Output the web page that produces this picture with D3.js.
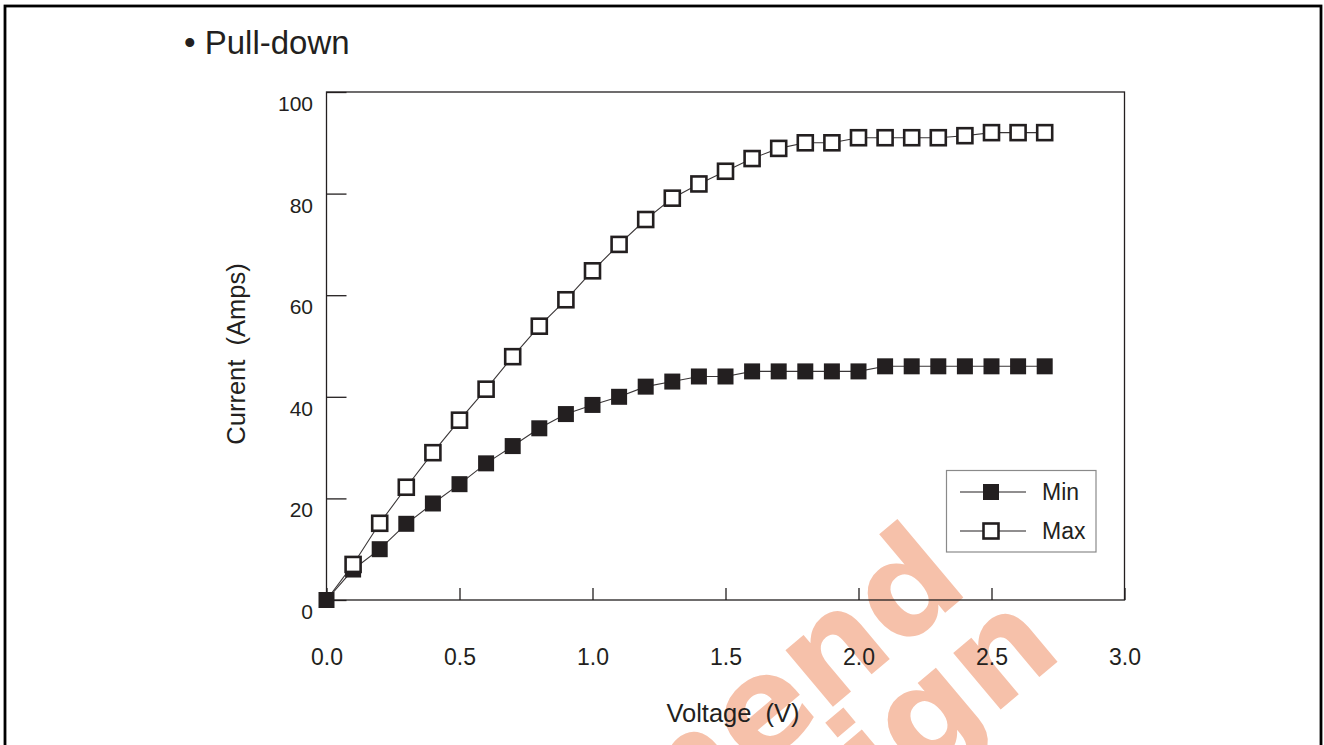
<!DOCTYPE html>
<html>
<head>
<meta charset="utf-8">
<script src="https://cdn.jsdelivr.net/npm/d3@7"></script>
<style>
  html, body { margin: 0; padding: 0; background: #fff; }
  svg { display: block; }
  text { font-family: "Liberation Sans", Arial, Helvetica, sans-serif; fill: #231f20; }
</style>
</head>
<body>
<svg id="chart" width="1324" height="745"></svg>
<script>
// ---- data ----
const voltage = [0.0, 0.1, 0.2, 0.3, 0.4, 0.5, 0.6, 0.7, 0.8, 0.9, 1.0, 1.1, 1.2, 1.3,
                 1.4, 1.5, 1.6, 1.7, 1.8, 1.9, 2.0, 2.1, 2.2, 2.3, 2.4, 2.5, 2.6, 2.7];
const minCurrent = [0, 6, 10, 15, 19, 22.8, 26.9, 30.3, 33.8, 36.6, 38.4, 40, 42, 43,
                    44, 44, 45, 45, 45, 45, 45, 46, 46, 46, 46, 46, 46, 46];
const maxCurrent = [0, 7, 15.1, 22.2, 29, 35.4, 41.5, 47.9, 53.9, 59.1, 64.8, 70, 74.9, 79.1,
                    81.9, 84.4, 86.9, 88.9, 90, 90, 91, 91, 91, 91, 91.4, 92, 92, 92];
const xTicks = [0.0, 0.5, 1.0, 1.5, 2.0, 2.5, 3.0];
const yTicks = [0, 20, 40, 60, 80, 100];
const seriesNames = ["Min", "Max"];
const titleText = "\u2022 Pull-down";
const xTitle = "Voltage  (V)";
const yTitle = "Current  (Amps)";
const watermarkLines = ["Not Recommend", "for New Design"];

// ---- layout ----
const svg = d3.select("#chart");
const ink = "#231f20";
const pLeft = 326.5, pRight = 1124.5, pTop = 92, pBottom = 600;

const x = d3.scaleLinear().domain([0, 3]).range([pLeft, pRight]);
const y = d3.scaleLinear().domain([0, 100]).range([pBottom, pTop]);

// outer frame
svg.append("rect")
  .attr("x", 5).attr("y", 6).attr("width", 1316).attr("height", 760)
  .attr("fill", "none").attr("stroke", "#000").attr("stroke-width", 2.8);

// watermark (behind chart)
const wm = svg.append("g")
  .attr("transform", "translate(972,590) rotate(-40)");
wm.selectAll("text").data(watermarkLines).join("text")
  .attr("x", (d, i) => i * 30).attr("y", (d, i) => i * 110)
  .attr("text-anchor", "end")
  .style("font-family", "'DejaVu Sans', sans-serif")
  .style("font-size", "135px").style("font-weight", "bold")
  .style("fill", "#f6c1aa")
  .text(d => d);

// title
svg.append("text")
  .attr("x", 184).attr("y", 54)
  .style("font-size", "33px")
  .text(titleText);

// plot frame
svg.append("rect")
  .attr("x", pLeft).attr("y", pTop)
  .attr("width", pRight - pLeft).attr("height", pBottom - pTop)
  .attr("fill", "none").attr("stroke", ink).attr("stroke-width", 1.3);

// y axis
const yAxis = d3.axisLeft(y).tickValues(yTicks).tickSizeInner(-20).tickSizeOuter(0)
  .tickPadding(13.5).tickFormat(d3.format("d"));
const gy = svg.append("g").attr("transform", `translate(${pLeft},0)`).call(yAxis);
gy.select(".domain").remove();
gy.selectAll(".tick line").attr("stroke", ink).attr("stroke-width", 1.3);
gy.selectAll(".tick text").attr("dy", "0.88em").style("font-size", "21px")
  .style("font-family", "'Liberation Sans', Arial, sans-serif").attr("fill", ink);

// x axis
const xAxis = d3.axisBottom(x).tickValues(xTicks).tickSizeInner(-12).tickSizeOuter(0)
  .tickPadding(48.5).tickFormat(d3.format(".1f"));
const gx = svg.append("g").attr("transform", `translate(0,${pBottom})`).call(xAxis);
gx.select(".domain").remove();
gx.selectAll(".tick line").attr("stroke", ink).attr("stroke-width", 1.3);
gx.selectAll(".tick text").style("font-size", "23px")
  .style("font-family", "'Liberation Sans', Arial, sans-serif").attr("fill", ink);

// axis titles
svg.append("text")
  .attr("transform", "translate(245,354) rotate(-90)")
  .attr("text-anchor", "middle")
  .style("font-size", "25.5px").style("white-space", "pre")
  .text(yTitle);
svg.append("text")
  .attr("x", 733).attr("y", 722)
  .attr("text-anchor", "middle")
  .style("font-size", "25.5px").style("white-space", "pre")
  .text(xTitle);

// series
const line = d3.line().x(d => x(d[0])).y(d => y(d[1]));
const minPts = voltage.map((v, i) => [v, minCurrent[i]]);
const maxPts = voltage.map((v, i) => [v, maxCurrent[i]]);

svg.append("path").datum(minPts).attr("d", line)
  .attr("fill", "none").attr("stroke", "#3a3637").attr("stroke-width", 1.1);
svg.append("path").datum(maxPts).attr("d", line)
  .attr("fill", "none").attr("stroke", "#3a3637").attr("stroke-width", 1.1);

const fs = 16;   // filled square size
const os = 15;   // open square size
svg.append("g").selectAll("rect").data(minPts).join("rect")
  .attr("x", d => x(d[0]) - fs / 2).attr("y", d => y(d[1]) - fs / 2)
  .attr("width", fs).attr("height", fs).attr("fill", ink);

svg.append("g").selectAll("rect")
  .data(maxPts.filter((d, i) => d[1] !== minCurrent[i]))
  .join("rect")
  .attr("x", d => x(d[0]) - os / 2).attr("y", d => y(d[1]) - os / 2)
  .attr("width", os).attr("height", os)
  .attr("fill", "#fff").attr("stroke", ink).attr("stroke-width", 2.6);

// legend
const lg = svg.append("g");
lg.append("rect").attr("x", 946.5).attr("y", 470.5).attr("width", 149.5).attr("height", 81.5)
  .attr("fill", "#fff").attr("stroke", "#8a8a8a").attr("stroke-width", 1.2);
const legendRows = [
  { name: seriesNames[0], cy: 492, filled: true },
  { name: seriesNames[1], cy: 531, filled: false }
];
legendRows.forEach(r => {
  lg.append("line").attr("x1", 960).attr("x2", 1026).attr("y1", r.cy).attr("y2", r.cy)
    .attr("stroke", ink).attr("stroke-width", 1.1);
  if (r.filled) {
    lg.append("rect").attr("x", 991 - fs / 2).attr("y", r.cy - fs / 2)
      .attr("width", fs).attr("height", fs).attr("fill", ink);
  } else {
    lg.append("rect").attr("x", 991 - os / 2).attr("y", r.cy - os / 2)
      .attr("width", os).attr("height", os)
      .attr("fill", "#fff").attr("stroke", ink).attr("stroke-width", 2.6);
  }
  lg.append("text").attr("x", 1042).attr("y", r.cy + 8)
    .style("font-size", "23px").text(r.name);
});
</script>
</body>
</html>
